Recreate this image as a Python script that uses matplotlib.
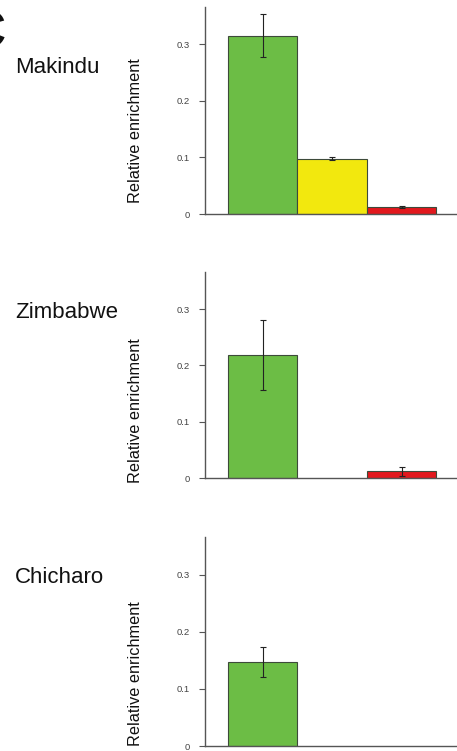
import numpy as np
import matplotlib
matplotlib.use("Agg")
import matplotlib.pyplot as plt

# data
sites = ["Makindu", "Zimbabwe", "Chicharo"]
bar_colors = ["#6cbd45", "#f2e80e", "#e2181d"]
makindu_vals = [0.315, 0.098, 0.013]
makindu_err = [0.038, 0.002, 0.002]
zimbabwe_vals = [0.219, np.nan, 0.012]
zimbabwe_err = [0.062, np.nan, 0.008]
chicharo_vals = [0.147, np.nan, np.nan]
chicharo_err = [0.027, np.nan, np.nan]
yticks = [0, 0.1, 0.2, 0.3]
yticklabels = ["0", "0.1", "0.2", "0.3"]

values = [makindu_vals, zimbabwe_vals, chicharo_vals]
errors = [makindu_err, zimbabwe_err, chicharo_err]

W, H = 457, 751
plt.rcParams["font.family"] = ["Liberation Sans", "DejaVu Sans"]

fig = plt.figure(figsize=(W / 100, H / 100), dpi=100)

# pixel boxes of each panel: (baseline, top) and label positions
panels = [(214, 7, 73, 131), (478, 272, 318, 411), (746, 537, 583, 674)]

for i in range(3):
    base, top, lab_y, ylab_y = panels[i]
    ax = fig.add_axes([205 / W, 1 - base / H, 260 / W, (base - top) / H])
    x = np.arange(3)
    ax.bar(x, values[i], width=1.0, color=bar_colors, edgecolor="#3d4a3a",
           linewidth=0.8, zorder=2)
    ax.errorbar(x, values[i], yerr=errors[i], fmt="none", ecolor="#222222",
                elinewidth=0.8, capsize=2, capthick=0.8, zorder=3)
    ax.set_xlim(-0.83, -0.83 + 260 / 69.5)
    ax.set_ylim(0, 0.366)
    ax.set_yticks(yticks)
    ax.set_yticklabels(yticklabels, fontsize=6.8, color="#444444")
    ax.set_xticks([])
    ax.tick_params(axis="y", length=4, width=0.8, color="#555555", pad=7)
    for s in ["top", "right"]:
        ax.spines[s].set_visible(False)
    for s in ["left", "bottom"]:
        ax.spines[s].set_color("#555555")
        ax.spines[s].set_linewidth(1.0)
    fig.text(15 / W, 1 - lab_y / H, sites[i], fontsize=16, ha="left",
             va="baseline", color="#111111")
    fig.text(135 / W, 1 - ylab_y / H, "Relative enrichment", rotation=90,
             fontsize=11.7, ha="center", va="center", color="#111111")

# panel letter, mostly cut off at the left edge
fig.text(6 / W, 1 - 47 / H, "C", fontsize=37, fontweight="bold", ha="right",
         va="baseline", color="#111111")

fig.savefig("out.png", dpi=100)
